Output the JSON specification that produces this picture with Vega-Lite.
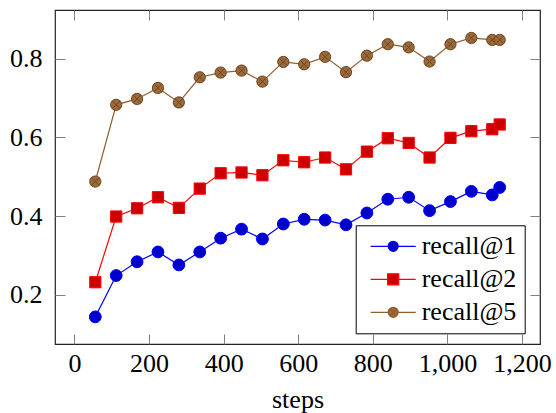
{
  "$schema": "https://vega.github.io/schema/vega-lite/v6.json",
  "width": 485,
  "height": 334,
  "autosize": {"type": "none"},
  "padding": {"left": 55, "top": 10, "right": 16, "bottom": 69},
  "background": "white",
  "config": {
    "view": {"stroke": "#222222", "strokeWidth": 1.2},
    "font": "Liberation Serif",
    "axis": {
      "grid": false,
      "domain": false,
      "tickColor": "#808080",
      "tickWidth": 1,
      "tickSize": -10,
      "labelFont": "Liberation Serif",
      "labelFontSize": 26,
      "labelColor": "black",
      "titleFont": "Liberation Serif",
      "titleFontSize": 26,
      "titleFontWeight": "normal",
      "titleColor": "black"
    },
    "legend": {
      "orient": "none",
      "legendX": 300.7,
      "legendY": 215.3,
      "padding": 8,
      "strokeColor": "black",
      "fillColor": "white",
      "cornerRadius": 0,
      "labelFont": "Liberation Serif",
      "labelFontSize": 26,
      "labelColor": "black",
      "labelOffset": 32,
      "rowPadding": 7,
      "symbolSize": 144,
      "symbolStrokeWidth": 1.2,
      "symbolOpacity": 1
    }
  },
  "data": {
    "values": [
      {"step": 56, "series": "recall@1", "value": 0.144},
      {"step": 112, "series": "recall@1", "value": 0.249},
      {"step": 168, "series": "recall@1", "value": 0.284},
      {"step": 224, "series": "recall@1", "value": 0.309},
      {"step": 280, "series": "recall@1", "value": 0.276},
      {"step": 336, "series": "recall@1", "value": 0.309},
      {"step": 392, "series": "recall@1", "value": 0.344},
      {"step": 448, "series": "recall@1", "value": 0.367},
      {"step": 504, "series": "recall@1", "value": 0.342},
      {"step": 560, "series": "recall@1", "value": 0.380},
      {"step": 616, "series": "recall@1", "value": 0.392},
      {"step": 672, "series": "recall@1", "value": 0.390},
      {"step": 728, "series": "recall@1", "value": 0.378},
      {"step": 784, "series": "recall@1", "value": 0.408},
      {"step": 840, "series": "recall@1", "value": 0.443},
      {"step": 896, "series": "recall@1", "value": 0.448},
      {"step": 952, "series": "recall@1", "value": 0.414},
      {"step": 1008, "series": "recall@1", "value": 0.437},
      {"step": 1064, "series": "recall@1", "value": 0.463},
      {"step": 1120, "series": "recall@1", "value": 0.454},
      {"step": 1140, "series": "recall@1", "value": 0.473},
      {"step": 56, "series": "recall@2", "value": 0.232},
      {"step": 112, "series": "recall@2", "value": 0.399},
      {"step": 168, "series": "recall@2", "value": 0.420},
      {"step": 224, "series": "recall@2", "value": 0.448},
      {"step": 280, "series": "recall@2", "value": 0.421},
      {"step": 336, "series": "recall@2", "value": 0.470},
      {"step": 392, "series": "recall@2", "value": 0.509},
      {"step": 448, "series": "recall@2", "value": 0.511},
      {"step": 504, "series": "recall@2", "value": 0.504},
      {"step": 560, "series": "recall@2", "value": 0.542},
      {"step": 616, "series": "recall@2", "value": 0.537},
      {"step": 672, "series": "recall@2", "value": 0.549},
      {"step": 728, "series": "recall@2", "value": 0.519},
      {"step": 784, "series": "recall@2", "value": 0.564},
      {"step": 840, "series": "recall@2", "value": 0.598},
      {"step": 896, "series": "recall@2", "value": 0.586},
      {"step": 952, "series": "recall@2", "value": 0.549},
      {"step": 1008, "series": "recall@2", "value": 0.599},
      {"step": 1064, "series": "recall@2", "value": 0.616},
      {"step": 1120, "series": "recall@2", "value": 0.621},
      {"step": 1140, "series": "recall@2", "value": 0.633},
      {"step": 56, "series": "recall@5", "value": 0.488},
      {"step": 112, "series": "recall@5", "value": 0.683},
      {"step": 168, "series": "recall@5", "value": 0.698},
      {"step": 224, "series": "recall@5", "value": 0.726},
      {"step": 280, "series": "recall@5", "value": 0.689},
      {"step": 336, "series": "recall@5", "value": 0.753},
      {"step": 392, "series": "recall@5", "value": 0.765},
      {"step": 448, "series": "recall@5", "value": 0.770},
      {"step": 504, "series": "recall@5", "value": 0.742},
      {"step": 560, "series": "recall@5", "value": 0.792},
      {"step": 616, "series": "recall@5", "value": 0.786},
      {"step": 672, "series": "recall@5", "value": 0.805},
      {"step": 728, "series": "recall@5", "value": 0.766},
      {"step": 784, "series": "recall@5", "value": 0.808},
      {"step": 840, "series": "recall@5", "value": 0.837},
      {"step": 896, "series": "recall@5", "value": 0.829},
      {"step": 952, "series": "recall@5", "value": 0.793},
      {"step": 1008, "series": "recall@5", "value": 0.837},
      {"step": 1064, "series": "recall@5", "value": 0.853},
      {"step": 1120, "series": "recall@5", "value": 0.848},
      {"step": 1140, "series": "recall@5", "value": 0.848}
    ]
  },
  "resolve": {"axis": {"x": "independent", "y": "independent"}},
  "layer": [
    {
      "mark": {"type": "line", "strokeWidth": 1.2},
      "encoding": {
        "x": {
          "field": "step", "type": "quantitative",
          "scale": {"domain": [-52, 1248], "nice": false, "zero": false},
          "axis": {"values": [0, 200, 400, 600, 800, 1000, 1200], "format": ",d", "title": "steps", "labelPadding": 16, "titlePadding": 10, "labelFlush": false}
        },
        "y": {
          "field": "value", "type": "quantitative",
          "scale": {"domain": [0.075, 0.924], "nice": false, "zero": false},
          "axis": {"values": [0.2, 0.4, 0.6, 0.8], "format": ".1f", "title": null, "labelPadding": 23}
        },
        "stroke": {
          "field": "series", "type": "nominal", "title": null,
          "scale": {"domain": ["recall@1", "recall@2", "recall@5"], "range": ["#0000ff", "#ff0000", "#8f5f30"]}
        }
      }
    },
    {
      "transform": [{"filter": "datum.series === 'recall@1'"}],
      "mark": {"type": "point", "filled": true, "size": 140, "fill": "#0000cc", "stroke": "#0000ff", "strokeWidth": 1, "opacity": 1, "shape": "M1,0A1,1,0,1,1,-1,0A1,1,0,1,1,1,0Z"},
      "encoding": {
        "x": {
          "field": "step", "type": "quantitative",
          "axis": {"orient": "top", "values": [0, 200, 400, 600, 800, 1000, 1200], "labels": false, "title": null}
        },
        "y": {
          "field": "value", "type": "quantitative",
          "axis": {"orient": "right", "values": [0.2, 0.4, 0.6, 0.8], "labels": false, "title": null}
        }
      }
    },
    {
      "transform": [{"filter": "datum.series === 'recall@2'"}],
      "mark": {"type": "point", "filled": true, "size": 140, "fill": "#cc0000", "stroke": "#ff0000", "strokeWidth": 1, "opacity": 1, "shape": "M-0.95,-0.95L0.95,-0.95L0.95,0.95L-0.95,0.95Z"},
      "encoding": {
        "x": {"field": "step", "type": "quantitative", "axis": null},
        "y": {"field": "value", "type": "quantitative", "axis": null}
      }
    },
    {
      "transform": [{"filter": "datum.series === 'recall@5'"}],
      "mark": {"type": "point", "filled": true, "size": 140, "fill": "#9c6a3a", "stroke": "#6e4622", "strokeWidth": 1, "opacity": 1, "shape": "M0.95,0A0.95,0.95,0,1,1,-0.95,0A0.95,0.95,0,1,1,0.95,0ZM-0.67,-0.67L0.67,0.67M-0.67,0.67L0.67,-0.67"},
      "encoding": {
        "x": {"field": "step", "type": "quantitative", "axis": null},
        "y": {"field": "value", "type": "quantitative", "axis": null}
      }
    },
    {
      "transform": [{"filter": "false"}],
      "mark": {"type": "point", "filled": true, "strokeWidth": 1.2, "opacity": 1},
      "encoding": {
        "x": {"field": "step", "type": "quantitative", "axis": null},
        "y": {"field": "value", "type": "quantitative", "axis": null},
        "stroke": {"field": "series", "type": "nominal", "title": null},
        "fill": {
          "field": "series", "type": "nominal", "title": null,
          "scale": {"domain": ["recall@1", "recall@2", "recall@5"], "range": ["#0000cc", "#cc0000", "#9c6a3a"]}
        },
        "shape": {
          "field": "series", "type": "nominal", "title": null,
          "scale": {"domain": ["recall@1", "recall@2", "recall@5"], "range": [
            "M-1,0L1.92,0M3.58,0L6.5,0M3.58,0A0.83,0.83,0,1,1,1.92,0A0.83,0.83,0,1,1,3.58,0Z",
            "M-1,0L1.83,0M3.67,0L6.5,0M1.83,-0.92L3.67,-0.92L3.67,0.92L1.83,0.92Z",
            "M-1,0L1.92,0M3.58,0L6.5,0M3.58,0A0.83,0.83,0,1,1,1.92,0A0.83,0.83,0,1,1,3.58,0ZM2.16,-0.59L3.34,0.59M2.16,0.59L3.34,-0.59"
          ]}
        }
      }
    }
  ]
}
